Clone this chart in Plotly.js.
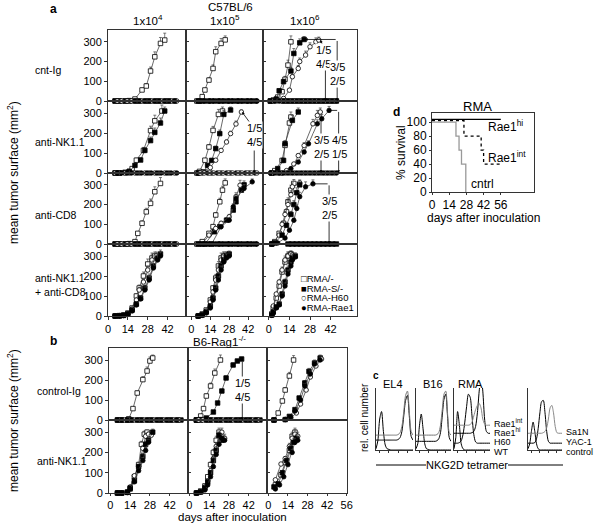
<!DOCTYPE html>
<html><head><meta charset="utf-8">
<script src="https://cdn.plot.ly/plotly-3.0.1.min.js"></script>
<style>html,body{margin:0;padding:0;background:#fff}#chart{width:600px;height:524px}</style>
</head><body><div id="chart"></div>
<script>
// ---------- DATA ----------
// zero-row markers (rejected tumours), days
const ZDa=[5,8,12,15,19,22,26,29,33,36,40,43,47];
const ZDb=[6.5,9.5,13.5,16.5,20.5,23.5,27.5,30.5,34.5,37.5,41.5,44.5,48.5];
const ZDc=[1,4,7,10,13,16,19,22,25,28,31,34,37,40,43,46];
const ZDd=[2.5,5.5,8.5,11.5,14.5,17.5,20.5,23.5,26.5,29.5,32.5,35.5,38.5,41.5,44.5];
// Panel a, row 1 cnt-Ig
const A11sqD=[5,8,12,15,19,24,27,30,33,37,40], A11sqV=[0,0,0,2,10,56,76,152,224,292,309], A11sqE=[0,0,0,0,4,10,12,20,25,30,35];
const A12sqD=[4,6,8,10,13,16,18,22,25], A12sqV=[0,0,22,56,106,165,250,292,310], A12sqE=[0,0,5,8,12,18,25,25,20];
const A13sqD=[1,3,6,9,11,13,15], A13sqV=[0,5,20,47,110,182,300], A13sqE=[0,0,4,8,15,25,30];
const A13fsqD=[1,3,5,7,10,15,17,21,24], A13fsqV=[0,2,10,52,98,152,241,295,312], A13fsqE=[0,0,3,8,12,18,25,20,15];
const A13ocD=[1,4,7,10,14,16,20,21,25,28,32,34], A13ocV=[0,0,2,13,55,123,165,200,233,275,300,309], A13ocE=[0,0,0,3,8,12,15,18,20,20,20,15];
// row 2 anti-NK1.1
const A21sqD=[5,8,12,15,17,20,25,30,33,38], A21sqV=[0,0,3,8,22,64,113,212,261,310], A21sqE=[0,0,0,2,5,10,15,22,28,30];
const A21fsqD=[5,8,12,15,19,23,26,30,33,37,40], A21fsqV=[0,0,2,8,38,65,113,162,203,250,310], A21fsqE=[0,0,0,2,6,10,14,18,22,25,20];
const A22sqD=[4,6,10,13,16,20,23], A22sqV=[0,8,64,130,213,293,310], A22sqE=[0,2,8,12,20,25,20];
const A22fsqD=[5,9,12,15,18,21,24,29], A22fsqV=[0,5,38,63,122,197,293,315], A22fsqE=[0,0,5,8,12,18,20,15];
const A22ocD=[5,8,14,18,22,26,29,33,37], A22ocV=[0,5,27,64,113,155,197,245,305], A22ocE=[0,0,3,6,8,10,12,15,10];
const A23sqD=[2,4,9,11,14,15], A23sqV=[0,12,63,138,250,280], A23sqE=[0,2,8,15,25,25];
const A23fsqD=[2,6,10,11,16,20], A23fsqV=[0,22,63,147,263,305], A23fsqE=[0,4,8,15,25,20];
const A23ocD=[7,12,17,20,24,30,33,35], A23ocV=[0,12,45,87,137,246,288,305], A23ocE=[0,2,6,10,15,22,25,20];
const A23fcD=[9,15,20,24,27,33,36,41], A23fcV=[0,22,55,105,146,246,271,313], A23fcE=[0,3,6,10,15,20,22,20];
// row 3 anti-CD8
const A31sqD=[5,8,12,15,19,21,24,27,30,33,37], A31sqV=[0,0,0,2,12,54,105,163,206,265,307], A31sqE=[0,0,0,0,3,8,12,18,22,25,30];
const A32sqD=[4,8,13,16,18,21,23,25], A32sqV=[0,12,54,88,147,214,273,310], A32sqE=[0,2,6,8,12,18,20,20];
const A32fsqD=[10,17,21,26,31,33,37,39], A32fsqV=[0,62,88,121,172,214,273,300], A32fsqE=[0,6,8,12,15,18,22,20];
const A32ocD=[8,13,18,22,28,33,36], A32ocV=[0,45,79,105,138,240,298], A32ocE=[0,5,8,10,12,20,25];
const A32fcD=[15,22,28,31,33,39,45], A32fcV=[0,88,121,189,231,282,315], A32fcE=[0,8,12,15,18,20,15];
const A33sqD=[2,4,7,10,12,13,15,17], A33sqV=[0,12,54,105,163,214,273,307], A33sqE=[0,2,6,10,15,20,25,20];
const A33ocD=[2,3,7,9,11,13,15,16,21], A33ocV=[0,5,45,100,150,200,250,290,310], A33ocE=[0,0,5,10,15,20,20,20,15];
const A33fsqD=[2,4,9,12,15,17,19,21], A33fsqV=[0,5,45,95,150,200,260,300], A33fsqE=[0,0,5,10,15,20,25,20];
const A33fcD=[2,6,11,14,17,19,21,25,30], A33fcV=[0,5,30,70,120,180,240,290,305], A33fcE=[0,0,4,8,12,18,22,25,20];
// row 4 anti-NK1.1 + anti-CD8
const A41sqD=[5,8,11,14,17,20,22,25,28,31,33], A41sqV=[0,2,5,15,40,100,140,200,260,290,300], A41sqE=[0,0,0,2,5,10,15,20,25,25,20];
const A41ocD=[5,8,11,14,17,20,22,25,28,31,34], A41ocV=[0,2,5,12,35,80,130,170,230,280,300], A41ocE=[0,0,0,2,5,8,12,15,20,25,20];
const A41fsqD=[5,8,11,14,17,20,23,26,29,32,35,37], A41fsqV=[0,0,3,10,30,60,90,140,190,250,290,310], A41fsqE=[0,0,0,2,4,8,10,15,20,25,25,20];
const A41fcD=[5,8,11,14,17,20,23,26,29,32,35,37], A41fcV=[0,0,2,8,25,55,85,130,180,240,280,300], A41fcE=[0,0,0,2,4,6,10,15,20,22,25,20];
const A42sqD=[5,8,11,14,16,18,20,22,24], A42sqV=[0,10,30,80,140,190,250,290,300], A42sqE=[0,2,4,8,12,18,22,25,20];
const A42ocD=[5,8,11,14,16,18,20,22,24,26], A42ocV=[0,8,25,70,120,180,230,280,300,305], A42ocE=[0,2,4,8,12,15,20,22,20,15];
const A42fsqD=[5,8,11,14,16,18,20,22,24,26,28], A42fsqV=[0,5,20,50,90,140,200,250,280,300,310], A42fsqE=[0,0,3,6,10,15,18,22,25,20,15];
const A42fcD=[5,8,11,14,16,18,20,22,24,26,28], A42fcV=[0,3,15,40,80,130,180,230,270,290,300], A42fcE=[0,0,2,5,8,12,15,20,22,20,15];
const A43sqD=[2,3,5,7,9,11,13,15], A43sqV=[10,40,90,150,220,270,300,310], A43sqE=[0,3,6,10,15,20,20,15];
const A43ocD=[2,3,5,7,9,11,13,15,16], A43ocV=[15,50,110,170,230,280,300,310,305], A43ocE=[0,3,6,10,15,20,20,15,15];
const A43fsqD=[2,3,5,7,9,11,13,15,16,18], A43fsqV=[5,20,45,60,110,170,230,270,290,300], A43fsqE=[0,2,4,6,10,15,20,20,20,15];
const A43fcD=[2,3,5,7,9,11,13,15,16,18], A43fcV=[3,15,40,55,100,150,210,250,280,295], A43fcE=[0,2,4,6,10,15,20,20,25,20];
// Panel b, row 1 control-Ig
const B11sqD=[5,8,12,13,16,19,23,26,28,30], B11sqV=[0,0,0,6,57,135,202,245,295,310], B11sqE=[0,0,0,0,5,10,15,20,20,15];
const B12sqD=[5,8,10,12,15,18,22], B12sqV=[0,20,57,120,170,235,300], B12sqE=[0,3,6,10,15,20,25];
const B12fsqD=[5,8,12,17,20,23,26,31,34,37], B12fsqV=[0,2,10,40,85,145,210,275,295,305], B12fsqE=[0,0,0,3,5,8,10,10,8,8];
const B13sqD=[4,7,10,12,15,18], B13sqV=[0,35,95,150,220,300], B13sqE=[0,3,8,12,18,22];
const B13fsqD=[4,12,15,19,22,26,29,33,37], B13fsqV=[0,2,18,52,110,185,243,285,310], B13fsqE=[0,0,2,5,8,12,15,15,15];
const B13ocD=[4,12,16,20,23,27,30,34,38], B13ocV=[0,2,10,35,80,150,215,270,305], B13ocE=[0,0,2,4,8,12,15,15,15];
const B13fcD=[4,12,16,19,23,26,30,33,37], B13fcV=[0,3,15,45,100,170,230,280,300], B13fcE=[0,0,2,5,8,12,15,15,15];
// row 2 anti-NK1.1
const B21sqD=[5,8,12,14,17,20,22,24,26], B21sqV=[0,0,5,20,80,140,240,290,300], B21sqE=[0,0,0,3,8,12,15,15,10];
const B21ocD=[5,8,12,14,17,20,23,25,27,29], B21ocV=[0,0,5,30,85,130,220,280,290,285], B21ocE=[0,0,0,3,8,12,15,15,10,10];
const B21fsqD=[5,8,12,14,17,20,23,25,27,30], B21fsqV=[0,0,3,25,60,130,180,240,260,300], B21fsqE=[0,0,0,3,6,10,15,15,15,15];
const B21fcD=[5,8,12,14,17,20,23,25,27], B21fcV=[0,0,2,20,55,110,160,210,250], B21fcE=[0,0,0,3,6,10,15,15,15];
const B22sqD=[5,8,11,13,15,17,19,21], B22sqV=[0,10,35,80,140,200,260,300], B22sqE=[0,2,4,8,12,15,20,20];
const B22ocD=[5,8,11,13,15,17,19,21,23,25], B22ocV=[0,5,30,60,110,170,230,280,300,270], B22ocE=[0,0,3,6,10,15,20,20,20,20];
const B22fsqD=[5,8,11,13,15,17,19,21,23], B22fsqV=[0,5,25,55,100,160,210,285,260], B22fsqE=[0,0,3,6,10,15,20,15,20];
const B22fcD=[5,8,11,13,15,17,19,21,23,25], B22fcV=[0,5,15,40,80,130,190,240,270,260], B22fcE=[0,0,2,4,8,12,15,20,20,20];
const B23sqD=[5,9,12,15,17,19], B23sqV=[40,90,150,210,280,300], B23sqE=[0,5,10,15,20,20];
const B23ocD=[5,9,12,15,17,19,21], B23ocV=[65,143,170,230,270,290,280], B23ocE=[0,5,10,15,20,20,20];
const B23fsqD=[4,7,10,13,16,18,20], B23fsqV=[30,45,100,160,220,250,270], B23fsqE=[0,3,8,12,15,20,20];
const B23fcD=[5,8,11,14,17,19,21], B23fcV=[20,40,80,140,200,250,260], B23fcE=[0,3,6,10,15,20,20];
// Panel d survival (%)
const Dx_hi=[0,56], Dy_hi=[104,104];
const Dx_int=[0,26,40,42,56], Dy_int=[102,80,60,40,40];
const Dx_ctl=[0,19.5,22,24,27.5], Dy_ctl=[100,80,60,40,0];
// Panel c histograms (normalised fluorescence, relative count incl. offset)
const Cx=[0,0.05,0.1,0.15,0.2,0.25,0.3,0.35,0.4,0.45,0.5,0.55,0.6,0.65,0.7,0.75,0.8,0.85,0.9,0.95,1.0];
const C_EL4_WT =[0.02,0.15,0.5,0.62,0.3,0.08,0.02,0.01,0,0,0,0,0,0,0,0,0,0,0,0,0];
const C_EL4_H60=[0.16,0.16,0.16,0.16,0.16,0.16,0.16,0.16,0.16,0.16,0.16,0.16,0.17,0.2,0.3,0.55,0.8,0.88,0.55,0.22,0.16];
const C_EL4_Rae=[0.24,0.24,0.24,0.24,0.24,0.24,0.24,0.24,0.24,0.24,0.24,0.24,0.25,0.28,0.38,0.62,0.88,0.95,0.62,0.3,0.24];
const C_B16_WT =[0.02,0.1,0.4,0.58,0.35,0.1,0.02,0.01,0,0,0,0,0,0,0,0,0,0,0,0,0];
const C_B16_H60=[0.14,0.14,0.14,0.14,0.14,0.14,0.14,0.14,0.14,0.14,0.14,0.14,0.15,0.18,0.28,0.55,0.82,0.9,0.55,0.2,0.14];
const C_B16_Rae=[0.24,0.24,0.24,0.24,0.24,0.24,0.24,0.24,0.24,0.24,0.24,0.24,0.25,0.28,0.4,0.65,0.9,0.95,0.6,0.28,0.24];
const C_RMA_WT =[0.02,0.2,0.62,0.4,0.1,0.02,0,0,0,0,0,0,0,0,0,0,0,0,0,0,0];
const C_RMA_H60=[0.11,0.11,0.11,0.12,0.15,0.25,0.45,0.7,0.9,0.85,0.55,0.25,0.13,0.11,0.11,0.11,0.11,0.11,0.11,0.11,0.11];
const C_RMA_hi =[0.27,0.27,0.27,0.27,0.27,0.27,0.27,0.27,0.27,0.27,0.28,0.3,0.38,0.6,0.95,1.2,0.95,0.5,0.3,0.27,0.27];
const C_RMA_int=[0.4,0.4,0.4,0.4,0.4,0.4,0.4,0.4,0.4,0.41,0.45,0.55,0.65,0.72,0.75,0.68,0.5,0.42,0.4,0.4,0.4];
const C_SA_ctl =[0.02,0.1,0.3,0.45,0.3,0.1,0.02,0,0,0,0,0,0,0,0,0,0,0,0,0,0];
const C_SA_YAC =[0.11,0.11,0.11,0.11,0.12,0.18,0.35,0.6,0.78,0.8,0.6,0.3,0.14,0.11,0.11,0.11,0.11,0.11,0.11,0.11,0.11];
const C_SA_Sa1N=[0.27,0.27,0.27,0.27,0.27,0.27,0.27,0.27,0.27,0.28,0.3,0.36,0.5,0.68,0.72,0.6,0.38,0.28,0.27,0.27,0.27];
// tick labels
const xTicksA=[0,14,28,42], xTicksB=[0,14,28,42], xTicksB3=[0,14,28,42,56], yTicks=[0,100,200,300];
const dXTicks=[0,14,28,42,56], dYTicks=[0,20,40,60,80,100];

// ---------- LAYOUT HELPERS ----------
const W=600,H=524;
const PX=x=>x/W, PY=y=>1-y/H;
const FONT='Liberation Sans, Arial, sans-serif';
const layout={width:W,height:H,margin:{l:0,r:0,t:0,b:0},paper_bgcolor:'#fff',plot_bgcolor:'rgba(0,0,0,0)',
  showlegend:false,font:{family:FONT,size:11,color:'#000'},annotations:[],shapes:[]};
const traces=[];
let nAx=0;
const LC='#333';
function addAxes(x0,x1,yTop,yBot,xo,yo){
  nAx++; const k=nAx===1?'':String(nAx);
  const base={showline:true,linecolor:LC,linewidth:1,mirror:true,zeroline:false,showgrid:false,ticks:'',showticklabels:false,
    ticklen:3,tickwidth:1,tickcolor:LC,fixedrange:true,tickfont:{size:11,family:FONT}};
  layout['xaxis'+k]=Object.assign({},base,{domain:[PX(x0),PX(x1)],anchor:'y'+k},xo);
  layout['yaxis'+k]=Object.assign({},base,{domain:[PY(yBot),PY(yTop)],anchor:'x'+k},yo);
  return {x:'x'+k,y:'y'+k};
}
const SYM={sq:{symbol:'square',color:'#fff'},fsq:{symbol:'square',color:'#000'},oc:{symbol:'circle',color:'#fff'},fc:{symbol:'circle',color:'#000'}};
function grow(ax,s,D,V,E){
  traces.push({type:'scatter',mode:'lines+markers',x:D,y:V,xaxis:ax.x,yaxis:ax.y,cliponaxis:false,
    line:{color:'#444',width:0.8},
    marker:{symbol:SYM[s].symbol,color:SYM[s].color,size:4.5,line:{color:'#000',width:0.8}},
    error_y:{type:'data',symmetric:false,array:E,arrayminus:E.map(()=>0),thickness:0.7,width:1.5,color:'#444'}});
}
function zeros(ax,s,days){
  traces.push({type:'scatter',mode:'markers',x:days,y:days.map(()=>0),xaxis:ax.x,yaxis:ax.y,cliponaxis:false,
    marker:{symbol:SYM[s].symbol,color:SYM[s].color,size:4.5,line:{color:'#000',width:0.8}}});
}
function ann(o){layout.annotations.push(Object.assign({showarrow:false,xanchor:'center',yanchor:'middle',font:{size:11,family:FONT}},o));}
function arrow(ax,x,y,axv,ayv,head){
  layout.annotations.push({xref:ax.x,yref:ax.y,axref:ax.x,ayref:ax.y,x:x,y:y,ax:axv,ay:ayv,text:'',showarrow:true,
    arrowhead:head===undefined?2:head,arrowsize:0.7,arrowwidth:0.8,arrowcolor:'#000'});
}
function frac(ax,x,y,txt){
  layout.annotations.push({xref:ax.x,yref:ax.y,x:x,y:y,text:txt,showarrow:false,bgcolor:'#fff',borderpad:0,
    xanchor:'center',yanchor:'middle',font:{size:11,family:FONT},align:'center'});
}

// ---------- PANEL a ----------
const colsA=[[108,186],[186,263],[263,357]];
const rngA=[[0,55],[-4,53],[-4,60]];
const rowsA=[[30,101],[101,173],[173,244],[244,316]];
const A=[];
for(let r=0;r<4;r++){A.push([]);for(let c=0;c<3;c++){
  A[r].push(addAxes(colsA[c][0],colsA[c][1],rowsA[r][0],rowsA[r][1],
    {range:rngA[c],tickvals:xTicksA,ticks:r===3?'outside':'',showticklabels:r===3},
    {range:[0,360],tickvals:yTicks,ticks:c===0?'outside':'inside',showticklabels:c===0}));
}}
// row 1
grow(A[0][0],'sq',A11sqD,A11sqV,A11sqE); zeros(A[0][0],'fsq',ZDa); zeros(A[0][0],'oc',ZDb); zeros(A[0][0],'fc',ZDa.slice(4));
grow(A[0][1],'sq',A12sqD,A12sqV,A12sqE); zeros(A[0][1],'fsq',ZDa); zeros(A[0][1],'oc',ZDb); zeros(A[0][1],'fc',ZDb);
grow(A[0][2],'sq',A13sqD,A13sqV,A13sqE); grow(A[0][2],'fsq',A13fsqD,A13fsqV,A13fsqE); grow(A[0][2],'oc',A13ocD,A13ocV,A13ocE);
zeros(A[0][2],'fsq',ZDc.slice(3)); zeros(A[0][2],'oc',ZDd); zeros(A[0][2],'fc',ZDc);
// row 2
grow(A[1][0],'sq',A21sqD,A21sqV,A21sqE); grow(A[1][0],'fsq',A21fsqD,A21fsqV,A21fsqE); zeros(A[1][0],'oc',ZDa); zeros(A[1][0],'fc',ZDb);
grow(A[1][1],'sq',A22sqD,A22sqV,A22sqE); grow(A[1][1],'fsq',A22fsqD,A22fsqV,A22fsqE); grow(A[1][1],'oc',A22ocD,A22ocV,A22ocE);
zeros(A[1][1],'fc',ZDa); zeros(A[1][1],'oc',ZDb);
grow(A[1][2],'sq',A23sqD,A23sqV,A23sqE); grow(A[1][2],'fsq',A23fsqD,A23fsqV,A23fsqE); grow(A[1][2],'oc',A23ocD,A23ocV,A23ocE); grow(A[1][2],'fc',A23fcD,A23fcV,A23fcE);
zeros(A[1][2],'oc',ZDd); zeros(A[1][2],'fc',ZDc);
// row 3
grow(A[2][0],'sq',A31sqD,A31sqV,A31sqE); zeros(A[2][0],'fsq',ZDa); zeros(A[2][0],'oc',ZDb); zeros(A[2][0],'fc',ZDa.slice(4));
grow(A[2][1],'sq',A32sqD,A32sqV,A32sqE); grow(A[2][1],'fsq',A32fsqD,A32fsqV,A32fsqE); grow(A[2][1],'oc',A32ocD,A32ocV,A32ocE); grow(A[2][1],'fc',A32fcD,A32fcV,A32fcE);
zeros(A[2][1],'fsq',ZDa); zeros(A[2][1],'fc',ZDb);
grow(A[2][2],'sq',A33sqD,A33sqV,A33sqE); grow(A[2][2],'oc',A33ocD,A33ocV,A33ocE); grow(A[2][2],'fsq',A33fsqD,A33fsqV,A33fsqE); grow(A[2][2],'fc',A33fcD,A33fcV,A33fcE);
zeros(A[2][2],'fsq',ZDc.slice(4)); zeros(A[2][2],'fc',ZDd.slice(4));
// row 4
grow(A[3][0],'sq',A41sqD,A41sqV,A41sqE); grow(A[3][0],'oc',A41ocD,A41ocV,A41ocE); grow(A[3][0],'fsq',A41fsqD,A41fsqV,A41fsqE); grow(A[3][0],'fc',A41fcD,A41fcV,A41fcE);
grow(A[3][1],'sq',A42sqD,A42sqV,A42sqE); grow(A[3][1],'oc',A42ocD,A42ocV,A42ocE); grow(A[3][1],'fsq',A42fsqD,A42fsqV,A42fsqE); grow(A[3][1],'fc',A42fcD,A42fcV,A42fcE);
grow(A[3][2],'sq',A43sqD,A43sqV,A43sqE); grow(A[3][2],'oc',A43ocD,A43ocV,A43ocE); grow(A[3][2],'fsq',A43fsqD,A43fsqV,A43fsqE); grow(A[3][2],'fc',A43fcD,A43fcV,A43fcE);
// fraction annotations panel a
arrow(A[0][2],35,309,38.5,255); arrow(A[0][2],38.5,0,38.5,190); frac(A[0][2],37.5,225,'1/5<br>4/5');
arrow(A[0][2],24.5,312,46.5,312); arrow(A[0][2],46.5,0,46.5,312); frac(A[0][2],47,137,'3/5<br>2/5');
arrow(A[1][1],37.5,305,44,245); arrow(A[1][1],46.5,0,46.5,120); frac(A[1][1],47,190,'1/5<br>4/5');
arrow(A[1][2],35.5,0,35.5,300); frac(A[1][2],35.5,132,'3/5<br>2/5');
arrow(A[1][2],41.8,313,47.5,313,0); arrow(A[1][2],47.5,0,47.5,313); frac(A[1][2],48,132,'4/5<br>1/5');
arrow(A[2][2],30.5,305,41,305,0); arrow(A[2][2],41,0,41,305); frac(A[2][2],41,183,'3/5<br>2/5');

// ---------- PANEL b ----------
const colsB=[[109,188],[188,267],[267,347]];
const rngB=[[-1,55],[-1,55],[-1,56.2]];
const rowsB=[[348,420],[420,493]];
const B=[];
for(let r=0;r<2;r++){B.push([]);for(let c=0;c<3;c++){
  B[r].push(addAxes(colsB[c][0],colsB[c][1],rowsB[r][0],rowsB[r][1],
    {range:rngB[c],tickvals:(c===2?xTicksB3:xTicksB),ticks:r===1?'outside':'',showticklabels:r===1,ticklen:2},
    {range:[0,360],tickvals:yTicks,ticks:c===0?'outside':'inside',showticklabels:c===0}));
}}
grow(B[0][0],'sq',B11sqD,B11sqV,B11sqE); zeros(B[0][0],'fsq',ZDa.concat([50])); zeros(B[0][0],'oc',ZDb); zeros(B[0][0],'fc',ZDa);
grow(B[0][1],'sq',B12sqD,B12sqV,B12sqE); grow(B[0][1],'fsq',B12fsqD,B12fsqV,B12fsqE);
zeros(B[0][1],'fsq',ZDa.concat([50])); zeros(B[0][1],'oc',ZDb); zeros(B[0][1],'fc',ZDa.slice(2));
grow(B[0][2],'sq',B13sqD,B13sqV,B13sqE); grow(B[0][2],'fsq',B13fsqD,B13fsqV,B13fsqE); grow(B[0][2],'oc',B13ocD,B13ocV,B13ocE); grow(B[0][2],'fc',B13fcD,B13fcV,B13fcE);
grow(B[1][0],'sq',B21sqD,B21sqV,B21sqE); grow(B[1][0],'oc',B21ocD,B21ocV,B21ocE); grow(B[1][0],'fsq',B21fsqD,B21fsqV,B21fsqE); grow(B[1][0],'fc',B21fcD,B21fcV,B21fcE);
grow(B[1][1],'sq',B22sqD,B22sqV,B22sqE); grow(B[1][1],'oc',B22ocD,B22ocV,B22ocE); grow(B[1][1],'fsq',B22fsqD,B22fsqV,B22fsqE); grow(B[1][1],'fc',B22fcD,B22fcV,B22fcE);
grow(B[1][2],'sq',B23sqD,B23sqV,B23sqE); grow(B[1][2],'oc',B23ocD,B23ocV,B23ocE); grow(B[1][2],'fsq',B23fsqD,B23fsqV,B23fsqE); grow(B[1][2],'fc',B23fcD,B23fcV,B23fcE);
arrow(B[0][1],37.5,0,37.5,300); frac(B[0][1],37.5,150,'1/5<br>4/5');

// ---------- PANEL d ----------
const Dax=addAxes(432,534,113,192,
  {range:[0,83],tickvals:dXTicks,ticks:'outside',ticklen:2,showticklabels:true,tickfont:{size:12,family:FONT}},
  {range:[0,113],tickvals:dYTicks,ticks:'outside',ticklen:2,showticklabels:true,tickfont:{size:12,family:FONT}});
traces.push({type:'scatter',mode:'lines',x:Dx_hi,y:Dy_hi,xaxis:Dax.x,yaxis:Dax.y,line:{color:'#000',width:1.3,shape:'hv'},cliponaxis:false});
traces.push({type:'scatter',mode:'lines',x:Dx_int,y:Dy_int,xaxis:Dax.x,yaxis:Dax.y,line:{color:'#000',width:1.3,dash:'dot',shape:'hv'},cliponaxis:false});
traces.push({type:'scatter',mode:'lines',x:Dx_ctl,y:Dy_ctl,xaxis:Dax.x,yaxis:Dax.y,line:{color:'#999',width:1.3,shape:'hv'},cliponaxis:false});

// ---------- PANEL c ----------
const cBoxes=[[376,413],[416,451],[454,490],[528,562]];
const cSets=[[C_EL4_WT,C_EL4_H60,C_EL4_Rae],[C_B16_WT,C_B16_H60,C_B16_Rae],[C_RMA_WT,C_RMA_H60,C_RMA_hi,C_RMA_int],[C_SA_ctl,C_SA_YAC,C_SA_Sa1N]];
const cCols=[['#000','#000','#777'],['#000','#000','#777'],['#000','#000','#000','#888'],['#000','#000','#888']];
cBoxes.forEach((b,i)=>{
  const ax=addAxes(b[0],b[1],388,450,
    {range:[0,1],tickvals:[0.1,0.35,0.6,0.85],ticks:'outside',ticklen:2,mirror:false},
    {range:[0,1],mirror:false});
  cSets[i].forEach((ys,j)=>{
    traces.push({type:'scatter',mode:'lines',x:Cx,y:ys,xaxis:ax.x,yaxis:ax.y,cliponaxis:false,
      line:{color:cCols[i][j],width:1,shape:'spline',smoothing:0.8}});
  });
});

// ---------- TEXT ----------
const P=(x,y,t,o)=>ann(Object.assign({xref:'paper',yref:'paper',x:PX(x),y:PY(y),text:t},o||{}));
const F12={size:12,family:FONT}, F115={size:11.5,family:FONT}, F105={size:10.5,family:FONT}, F9={size:9,family:FONT}, F95={size:9.5,family:FONT};
P(53,9,'<b>a</b>',{font:F12});
P(230,7,'C57BL/6',{font:F115});
P(148,29,'1x10<sup>4</sup>',{font:F115,yanchor:'bottom'});
P(225,29,'1x10<sup>5</sup>',{font:F115,yanchor:'bottom'});
P(305,29,'1x10<sup>6</sup>',{font:F115,yanchor:'bottom'});
P(33,70,'cnt-Ig',{xanchor:'left',font:F105});
P(33,142,'anti-NK1.1',{xanchor:'left',font:F105});
P(33,215,'anti-CD8',{xanchor:'left',font:F105});
P(33,285,'anti-NK1.1<br>+ anti-CD8',{xanchor:'left',align:'left',font:F105});
P(13,173,'mean tumor surface (mm<sup>2</sup>)',{textangle:-90,font:F12});
P(53,341,'<b>b</b>',{font:F12});
P(220,341,'B6-Rag1<sup>-/-</sup>',{font:F115});
P(35,391,'control-Ig',{xanchor:'left',font:F105});
P(35,461,'anti-NK1.1',{xanchor:'left',font:F105});
P(13,421,'mean tumor surface (mm<sup>2</sup>)',{textangle:-90,font:F12});
P(232,517,'days after inoculation',{font:F115});
// legend in panel a
P(299,278.5,'□RMA/-',{xanchor:'left',font:F95});
P(299,288,'■RMA-S/-',{xanchor:'left',font:F95});
P(299,297.5,'○RMA-H60',{xanchor:'left',font:F95});
P(299,307,'●RMA-Rae1',{xanchor:'left',font:F95});
// panel d
P(396,112,'<b>d</b>',{font:F12});
P(477,106,'RMA',{font:{size:13,family:FONT}});
P(401,153,'% survival',{textangle:-90,font:F12});
P(483,218,'days after inoculation',{font:F12});
P(486,126,'Rae1<sup>hi</sup>',{xanchor:'left',font:F12});
P(486,157,'Rae1<sup>int</sup>',{xanchor:'left',font:F12});
P(469,184,'cntrl',{xanchor:'left',font:F12});
// panel c
P(376,375,'<b>c</b>',{font:{size:10,family:FONT}});
P(393,384,'EL4');
P(433,384,'B16');
P(470,384,'RMA');
P(364,418,'rel. cell number',{textangle:-90,font:{size:10,family:FONT}});
P(492,423,'Rae1<sup>int</sup>',{xanchor:'left',font:F9});
P(492,432,'Rae1<sup>hi</sup>',{xanchor:'left',font:F9});
P(492,442,'H60',{xanchor:'left',font:F9});
P(492,452,'WT',{xanchor:'left',font:F9});
P(564,432,'Sa1N',{xanchor:'left',font:F9});
P(564,442,'YAC-1',{xanchor:'left',font:F9});
P(564,452,'control',{xanchor:'left',font:F9});
P(467,465,'NKG2D tetramer');
layout.shapes.push({type:'line',xref:'paper',yref:'paper',x0:PX(376),x1:PX(426),y0:PY(465),y1:PY(465),line:{color:'#000',width:1}});
layout.shapes.push({type:'line',xref:'paper',yref:'paper',x0:PX(508),x1:PX(563),y0:PY(465),y1:PY(465),line:{color:'#000',width:1}});

Plotly.newPlot('chart',traces,layout,{staticPlot:true,displayModeBar:false});
</script></body></html>
